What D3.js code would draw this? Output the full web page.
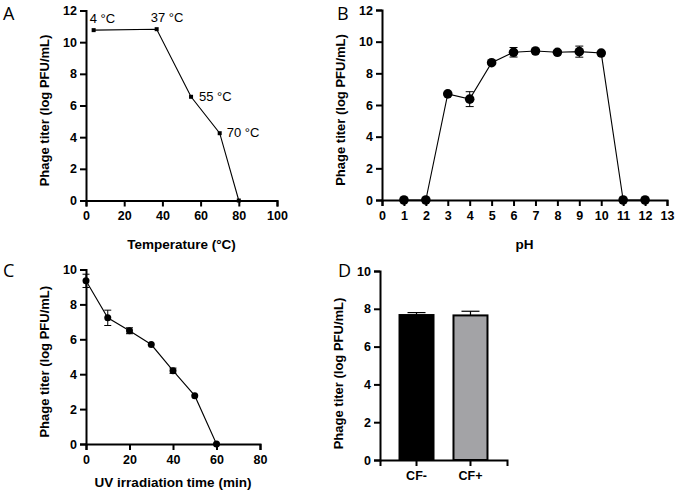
<!DOCTYPE html>
<html>
<head>
<meta charset="utf-8">
<script src="https://cdn.jsdelivr.net/npm/d3@7"></script>
<style>
  body { margin: 0; background: #fff; }
  svg text { font-family: "Liberation Sans", Arial, sans-serif; }
</style>
</head>
<body>
<svg id="fig" width="676" height="494"></svg>
<script>
// panel A - temperature
const tempX = [4, 37, 55, 70, 80];
const tempY = [10.76, 10.82, 6.55, 4.25, 0];
const tempLabels = ["4 °C", "37 °C", "55 °C", "70 °C", ""];
const tempTicksX = [0, 20, 40, 60, 80, 100];
const tempTicksY = [0, 2, 4, 6, 8, 10, 12];

// panel B - pH
const phX = [1, 2, 3, 4, 5, 6, 7, 8, 9, 10, 11, 12];
const phY = [0, 0, 6.7, 6.37, 8.67, 9.33, 9.41, 9.33, 9.37, 9.28, 0, 0];
const phErr = [0, 0, 0.1, 0.47, 0.1, 0.3, 0.1, 0.08, 0.35, 0.08, 0, 0];
const phTicksX = d3.range(0, 14);
const phTicksY = [0, 2, 4, 6, 8, 10, 12];

// panel C - UV
const uvX = [0, 10, 20, 30, 40, 50, 60];
const uvY = [9.35, 7.23, 6.49, 5.7, 4.2, 2.77, 0];
const uvErr = [0.38, 0.44, 0.17, 0.05, 0.15, 0.05, 0];
const uvTicksX = [0, 20, 40, 60, 80];
const uvTicksY = [0, 2, 4, 6, 8, 10];

// panel D - CF
const cfCats = ["CF-", "CF+"];
const cfY = [7.67, 7.65];
const cfErr = [0.13, 0.22];
const cfColors = ["#000000", "#a3a3a6"];
const cfTicksY = [0, 2, 4, 6, 8, 10];

const yTitle = "Phage titer (log PFU/mL)";
const FONT = "'Liberation Sans', Arial, sans-serif";
const svg = d3.select("#fig");

function styleAxis(a) {
    a.attr("font-family", FONT);
    a.select(".domain").attr("stroke-width", 2);
    a.selectAll(".tick line").attr("stroke-width", 2);
    a.selectAll(".tick text")
        .style("font-family", FONT)
        .style("font-size", "12.5px")
        .style("font-weight", "bold")
        .attr("fill", "#000");
}

function yLabel(g, box, dy) {
    g.append("text")
        .attr("transform", `translate(${box.x0 - 37}, ${(box.y0 + box.y1) / 2 + dy}) rotate(-90)`)
        .attr("text-anchor", "middle")
        .style("font-family", FONT)
        .style("font-size", "13px")
        .style("font-weight", "bold")
        .text(yTitle);
}

function makeAxes(box, xs, ys, xTicks, yTicks, xTitle, titleY) {
    const g = svg.append("g");
    const xa = g.append("g")
        .attr("transform", `translate(0, ${box.y1})`)
        .call(d3.axisBottom(xs).tickValues(xTicks).tickSizeOuter(0).tickSize(6).tickPadding(5));
    const ya = g.append("g")
        .attr("transform", `translate(${box.x0}, 0)`)
        .call(d3.axisLeft(ys).tickValues(yTicks).tickSizeOuter(0).tickSize(6).tickPadding(3));
    styleAxis(xa);
    styleAxis(ya);
    yLabel(g, box, 5);
    g.append("text")
        .attr("x", (box.x0 + box.x1) / 2)
        .attr("y", titleY)
        .attr("text-anchor", "middle")
        .style("font-family", FONT)
        .style("font-size", "13.5px")
        .style("font-weight", "bold")
        .text(xTitle);
    return g;
}

function panelLabel(txt, x, y) {
    svg.append("text").attr("x", x).attr("y", y)
        .style("font-size", "18px")
        .style("font-family", "'Open Sans', 'Liberation Sans', sans-serif")
        .text(txt);
}

// ---- A ----
{
    const box = {x0: 86, x1: 277, y0: 10.5, y1: 200.5};
    const xs = d3.scaleLinear().domain([0, 100]).range([box.x0, box.x1]);
    const ys = d3.scaleLinear().domain([0, 12]).range([box.y1, box.y0]);
    const pts = tempX.map((x, i) => ({x: x, y: tempY[i], lab: tempLabels[i]}));
    const g = makeAxes(box, xs, ys, tempTicksX, tempTicksY, "Temperature (°C)", 249);
    g.append("path")
        .attr("d", d3.line().x(d => xs(d.x)).y(d => ys(d.y))(pts))
        .attr("fill", "none").attr("stroke", "#000").attr("stroke-width", 1.1);
    g.selectAll("rect.pt").data(pts).join("rect")
        .attr("x", d => xs(d.x) - 2).attr("y", d => ys(d.y) - 2)
        .attr("width", 4).attr("height", 4).attr("fill", "#000");
    const offs = [[-4, -7], [-6, -7], [8, 4], [7, 4], [0, 0]];
    g.selectAll("text.lab").data(pts).join("text")
        .attr("x", (d, i) => xs(d.x) + offs[i][0])
        .attr("y", (d, i) => ys(d.y) + offs[i][1])
        .style("font-family", FONT)
        .style("font-size", "13px")
        .text(d => d.lab);
    panelLabel("A", 3, 20);
}

// ---- B ----
{
    const box = {x0: 382, x1: 667, y0: 10, y1: 200};
    const xs = d3.scaleLinear().domain([0, 13]).range([box.x0, box.x1]);
    const ys = d3.scaleLinear().domain([0, 12]).range([box.y1, box.y0]);
    const pts = phX.map((x, i) => ({x: x, y: phY[i], e: phErr[i]}));
    const g = makeAxes(box, xs, ys, phTicksX, phTicksY, "pH", 249);
    g.append("path")
        .attr("d", d3.line().x(d => xs(d.x)).y(d => ys(d.y))(pts))
        .attr("fill", "none").attr("stroke", "#000").attr("stroke-width", 1.1);
    const eb = g.selectAll("g.eb").data(pts.filter(d => d.e > 0.15)).join("g");
    eb.append("line").attr("x1", d => xs(d.x)).attr("x2", d => xs(d.x))
        .attr("y1", d => ys(d.y - d.e)).attr("y2", d => ys(d.y + d.e)).attr("stroke", "#000");
    [-1, 1].forEach(s => {
        eb.append("line").attr("x1", d => xs(d.x) - 4).attr("x2", d => xs(d.x) + 4)
            .attr("y1", d => ys(d.y + s * d.e)).attr("y2", d => ys(d.y + s * d.e)).attr("stroke", "#000");
    });
    g.selectAll("circle").data(pts).join("circle")
        .attr("cx", d => xs(d.x)).attr("cy", d => ys(d.y)).attr("r", 4.8).attr("fill", "#000");
    panelLabel("B", 337, 20);
}

// ---- C ----
{
    const box = {x0: 86, x1: 260, y0: 269.5, y1: 444};
    const xs = d3.scaleLinear().domain([0, 80]).range([box.x0, box.x1]);
    const ys = d3.scaleLinear().domain([0, 10]).range([box.y1, box.y0]);
    const pts = uvX.map((x, i) => ({x: x, y: uvY[i], e: uvErr[i]}));
    const g = makeAxes(box, xs, ys, uvTicksX, uvTicksY, "UV irradiation time (min)", 487);
    g.append("path")
        .attr("d", d3.line().x(d => xs(d.x)).y(d => ys(d.y))(pts))
        .attr("fill", "none").attr("stroke", "#000").attr("stroke-width", 1.1);
    const eb = g.selectAll("g.eb").data(pts.filter(d => d.e > 0.1)).join("g");
    eb.append("line").attr("x1", d => xs(d.x)).attr("x2", d => xs(d.x))
        .attr("y1", d => ys(d.y - d.e)).attr("y2", d => ys(d.y + d.e)).attr("stroke", "#000");
    [-1, 1].forEach(s => {
        eb.append("line").attr("x1", d => xs(d.x) - 3.5).attr("x2", d => xs(d.x) + 3.5)
            .attr("y1", d => ys(d.y + s * d.e)).attr("y2", d => ys(d.y + s * d.e)).attr("stroke", "#000");
    });
    g.selectAll("circle").data(pts).join("circle")
        .attr("cx", d => xs(d.x)).attr("cy", d => ys(d.y)).attr("r", 3.5).attr("fill", "#000");
    panelLabel("C", 3, 277);
}

// ---- D ----
{
    const box = {x0: 380, x1: 507, y0: 271, y1: 460};
    const xs = d3.scaleBand().domain(cfCats).range([box.x0, box.x1]).paddingInner(0.333).paddingOuter(0.343);
    const ys = d3.scaleLinear().domain([0, 10]).range([box.y1, box.y0]);
    const pts = cfCats.map((c, i) => ({c: c, y: cfY[i], e: cfErr[i], col: cfColors[i]}));
    const g = svg.append("g");
    const cx = d => xs(d.c) + xs.bandwidth() / 2;
    // error bars (upper only)
    g.selectAll("line.eb").data(pts).join("line")
        .attr("x1", cx).attr("x2", cx)
        .attr("y1", d => ys(d.y)).attr("y2", d => ys(d.y + d.e)).attr("stroke", "#000").attr("stroke-width", 1.2);
    g.selectAll("line.cap").data(pts).join("line")
        .attr("x1", d => cx(d) - 9).attr("x2", d => cx(d) + 9)
        .attr("y1", d => ys(d.y + d.e)).attr("y2", d => ys(d.y + d.e)).attr("stroke", "#000").attr("stroke-width", 1.2);
    g.selectAll("rect").data(pts).join("rect")
        .attr("x", d => xs(d.c) + 1).attr("y", d => ys(d.y))
        .attr("width", xs.bandwidth() - 2).attr("height", d => ys(0) - ys(d.y))
        .attr("fill", d => d.col).attr("stroke", "#000").attr("stroke-width", 2);
    const xa = g.append("g").attr("transform", `translate(0, ${box.y1})`)
        .call(d3.axisBottom(xs).tickSizeOuter(0).tickSize(6).tickPadding(5));
    const ya = g.append("g").attr("transform", `translate(${box.x0}, 0)`)
        .call(d3.axisLeft(ys).tickValues(cfTicksY).tickSizeOuter(0).tickSize(6).tickPadding(3));
    styleAxis(xa);
    styleAxis(ya);
    yLabel(g, box, 8);
    panelLabel("D", 338, 277);
}
</script>
</body>
</html>
